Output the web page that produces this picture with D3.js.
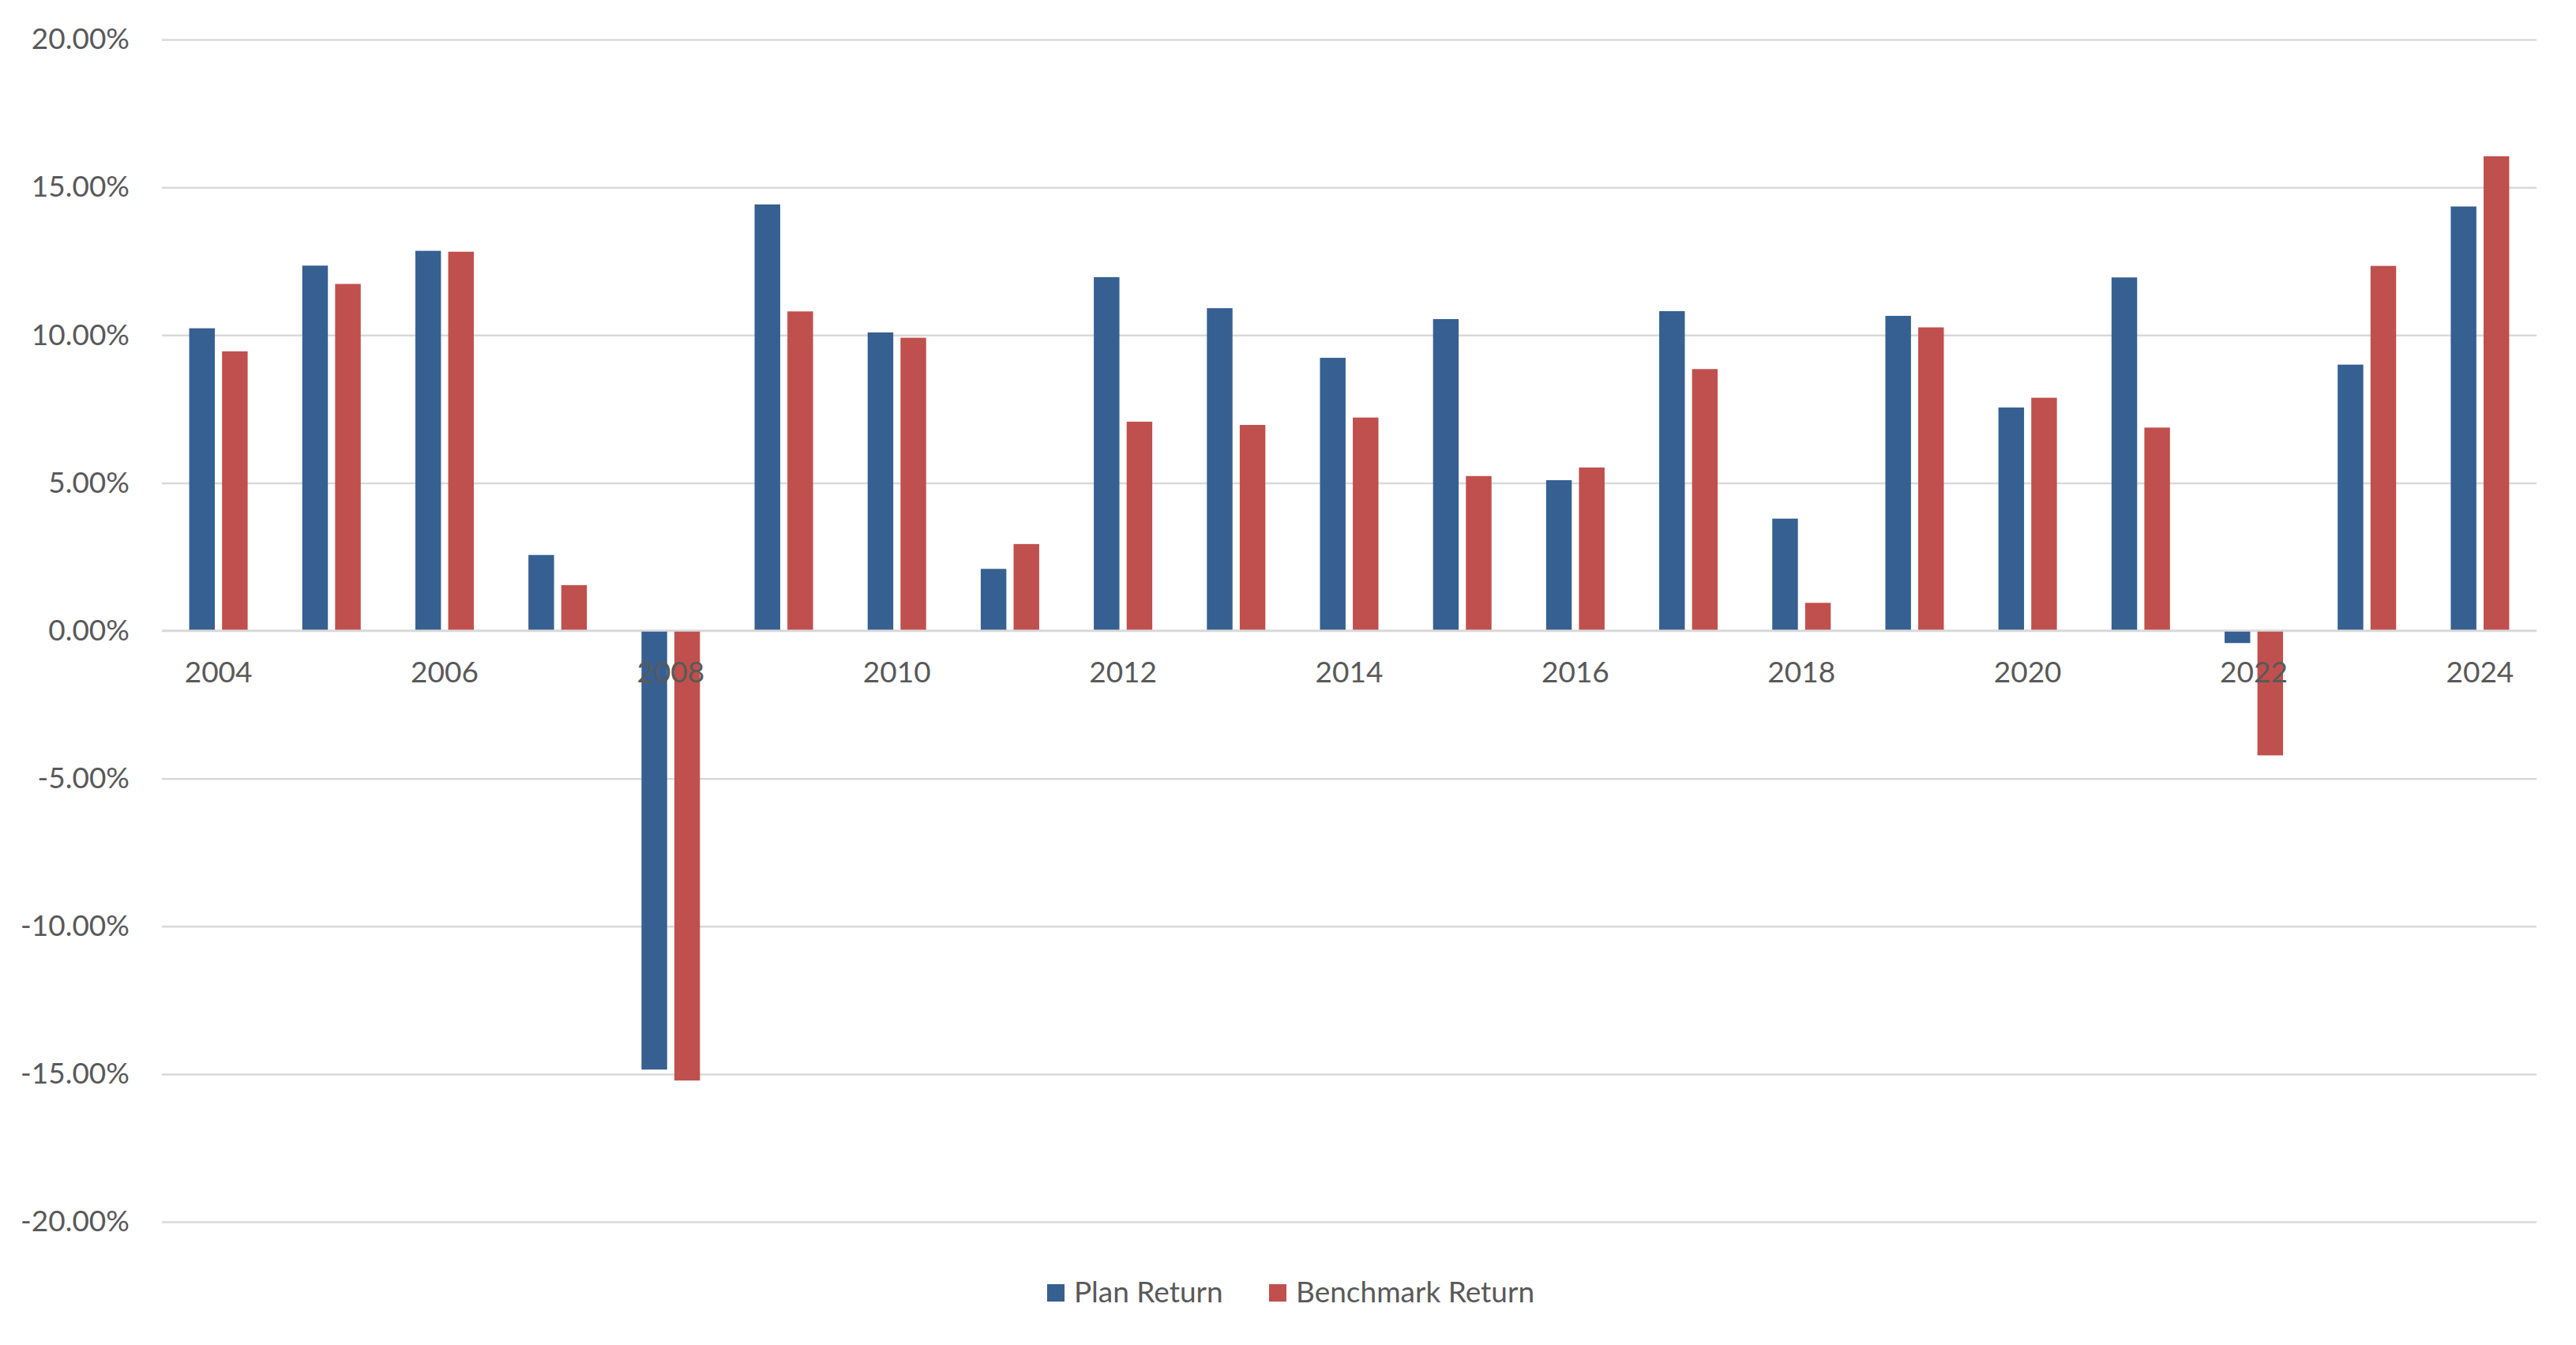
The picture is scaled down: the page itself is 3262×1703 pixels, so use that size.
<!DOCTYPE html>
<html>
<head>
<meta charset="utf-8">
<script src="https://cdn.jsdelivr.net/npm/d3@7"></script>
<style>
  body { margin: 0; background: #fff; }
  svg { display: block; }
  text { font-family: Lato, "Open Sans", sans-serif; fill: #595959; }
</style>
</head>
<body>
<div id="chart"></div>
<script>
// chart data (annual returns, %)
const years = ['2004', '2005', '2006', '2007', '2008', '2009', '2010', '2011', '2012', '2013', '2014',
  '2015', '2016', '2017', '2018', '2019', '2020', '2021', '2022', '2023', '2024'];
const planReturn = [10.23, 12.35, 12.85, 2.56, -14.85, 14.42, 10.09, 2.09, 11.96, 10.91, 9.23,
  10.54, 5.09, 10.81, 3.79, 10.65, 7.55, 11.95, -0.42, 9.0, 14.35];
const benchmarkReturn = [9.45, 11.73, 12.82, 1.54, -15.22, 10.8, 9.91, 2.93, 7.07, 6.96, 7.21,
  5.23, 5.52, 8.85, 0.94, 10.26, 7.88, 6.87, -4.22, 12.34, 16.05];
const seriesNames = ['Plan Return', 'Benchmark Return'];
const yTicks = [-20, -15, -10, -5, 0, 5, 10, 15, 20];
const xTickLabels = ['2004', '2006', '2008', '2010', '2012', '2014', '2016', '2018', '2020', '2022', '2024'];

const drawChart = () => {
  let width = 3262;
  let height = 1703;
  let margin = { top: 50, left: 205, right: 50, bottom: 156 };
  let fontSize = 37;

  let colors = d3.scaleOrdinal().domain(seriesNames).range(['#366092', '#C0504D']);

  let svg = d3
    .select('#chart')
    .append('svg')
    .attr('width', width)
    .attr('height', height);

  let x = d3
    .scaleBand()
    .domain(years)
    .range([margin.left, width - margin.right]);

  let y = d3
    .scaleLinear()
    .domain([-20, 20])
    .range([height - margin.bottom, margin.top]);

  // two bars per year, with a big gap between clusters
  let bw = x.bandwidth();
  let clusterW = bw * 0.517;
  let x1 = d3
    .scaleBand()
    .domain(seriesNames)
    .range([(bw - clusterW) / 2, (bw + clusterW) / 2])
    .paddingInner(0.22);

  // gridlines + y labels
  let yAxis = svg
    .append('g')
    .attr('transform', `translate(${margin.left},0)`)
    .call(
      d3
        .axisLeft(y)
        .tickValues(yTicks)
        .tickSize(-(width - margin.left - margin.right))
        .tickPadding(41)
        .tickFormat((d) => d.toFixed(2) + '%')
    );
  yAxis.select('.domain').remove();
  yAxis.selectAll('line').attr('stroke', '#d9d9d9').attr('stroke-width', 2.5);
  yAxis
    .selectAll('text')
    .attr('font-size', fontSize)
    .attr('fill', '#595959')
    .attr('font-family', 'Lato, sans-serif');

  // bars
  let rows = years.map((yr, i) => ({
    year: yr,
    values: [
      { key: seriesNames[0], value: planReturn[i] },
      { key: seriesNames[1], value: benchmarkReturn[i] },
    ],
  }));

  svg
    .append('g')
    .selectAll('g')
    .data(rows)
    .enter()
    .append('g')
    .attr('transform', (d) => `translate(${x(d.year)},0)`)
    .selectAll('rect')
    .data((d) => d.values)
    .enter()
    .append('rect')
    .attr('x', (d) => x1(d.key))
    .attr('width', x1.bandwidth())
    .attr('y', (d) => y(Math.max(0, d.value)))
    .attr('height', (d) => Math.abs(y(d.value) - y(0)))
    .attr('fill', (d) => colors(d.key));

  // zero line sits on top of the bars
  svg
    .append('line')
    .attr('x1', margin.left)
    .attr('x2', width - margin.right)
    .attr('y1', y(0))
    .attr('y2', y(0))
    .attr('stroke', '#d9d9d9')
    .attr('stroke-width', 2.5);

  // year labels hang just under the zero line
  let xAxis = svg
    .append('g')
    .attr('transform', `translate(0,${y(0)})`)
    .call(d3.axisBottom(x).tickValues(xTickLabels).tickSize(0).tickPadding(39));
  xAxis.select('.domain').remove();
  xAxis
    .selectAll('text')
    .attr('font-size', fontSize)
    .attr('fill', '#595959')
    .attr('font-family', 'Lato, sans-serif');

  // legend
  let legend = svg.append('g').attr('transform', `translate(1326, 1637)`);
  let legendX = [0, 281];
  legend
    .selectAll('.legend-item')
    .data(seriesNames)
    .enter()
    .append('g')
    .attr('class', 'legend-item')
    .attr('transform', (d, i) => `translate(${legendX[i]},0)`)
    .each(function (d) {
      let item = d3.select(this);
      item
        .append('rect')
        .attr('x', 0)
        .attr('y', -11)
        .attr('width', 22)
        .attr('height', 22)
        .attr('fill', colors(d));
      item
        .append('text')
        .attr('x', 34)
        .attr('y', 12)
        .attr('font-size', fontSize)
        .text(d);
    });
};

drawChart();
</script>
</body>
</html>
